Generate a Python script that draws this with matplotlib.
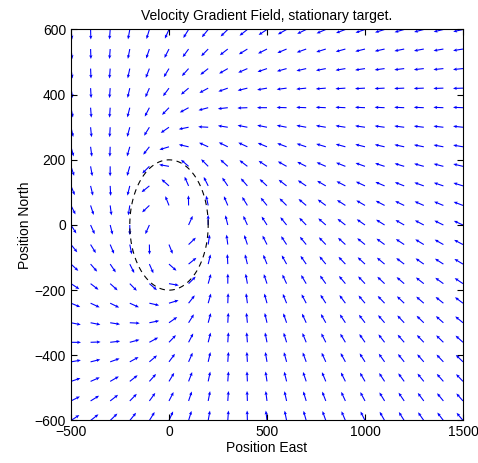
# Velocity gradient field around a stationary target (standoff circle guidance)
import numpy as np
import matplotlib.pyplot as plt

plt.rcParams['font.family'] = ['Liberation Sans', 'DejaVu Sans']
plt.rcParams['font.size'] = 10

# Grid of sample points
east_grid = [-500, -400, -300, -200, -100, 0, 100, 200, 300, 400, 500,
             600, 700, 800, 900, 1000, 1100, 1200, 1300, 1400, 1500]
north_grid = [-600, -540, -480, -420, -360, -300, -240, -180, -120, -60, 0,
              60, 120, 180, 240, 300, 360, 420, 480, 540, 600]

# Target and standoff radius
target_east = 0
target_north = 0
standoff = 200

xticks = [-500, 0, 500, 1000, 1500]
yticks = [-600, -400, -200, 0, 200, 400, 600]

# Lyapunov vector field: converge on the circle, counter-clockwise
X, Y = np.meshgrid(east_grid, north_grid)
dx = X - target_east
dy = Y - target_north
r = np.hypot(dx, dy)
k = r ** 2 - standoff ** 2
vx = -(dx * k + dy * 2 * r * standoff)
vy = -(dy * k - dx * 2 * r * standoff)

# arrows are equal length on screen, grid cells are square in pixels
u = vx / (east_grid[1] - east_grid[0])
v = vy / (north_grid[1] - north_grid[0])
n = np.hypot(u, v)
u = np.where(n > 0, u / np.where(n > 0, n, 1), np.nan)
v = np.where(n > 0, v / np.where(n > 0, n, 1), np.nan)

fig = plt.figure(figsize=(4.78, 4.63), dpi=100)
ax = fig.add_axes([0.1485, 0.0918, 0.8201, 0.8445])

ax.quiver(X, Y, u, v, color='b', angles='uv', scale_units='inches', scale=10,
          width=0.0028, headwidth=3, headlength=3.5, headaxislength=3,
          pivot='tail')

theta = np.linspace(0, 2 * np.pi, 200)
ax.plot(target_east + standoff * np.cos(theta),
        target_north + standoff * np.sin(theta),
        'k--', lw=0.8, dashes=(5, 4))

ax.set_xlim(-500, 1500)
ax.set_ylim(-600, 600)
ax.set_xticks(xticks)
ax.set_yticks(yticks)
ax.tick_params(direction='in', top=True, right=True, length=4)
ax.set_xlabel('Position East', labelpad=1)
ax.set_ylabel('Position North', labelpad=2)
ax.set_title('Velocity Gradient Field, stationary target.', fontsize=10, pad=7)

fig.savefig('out.png', dpi=100)
